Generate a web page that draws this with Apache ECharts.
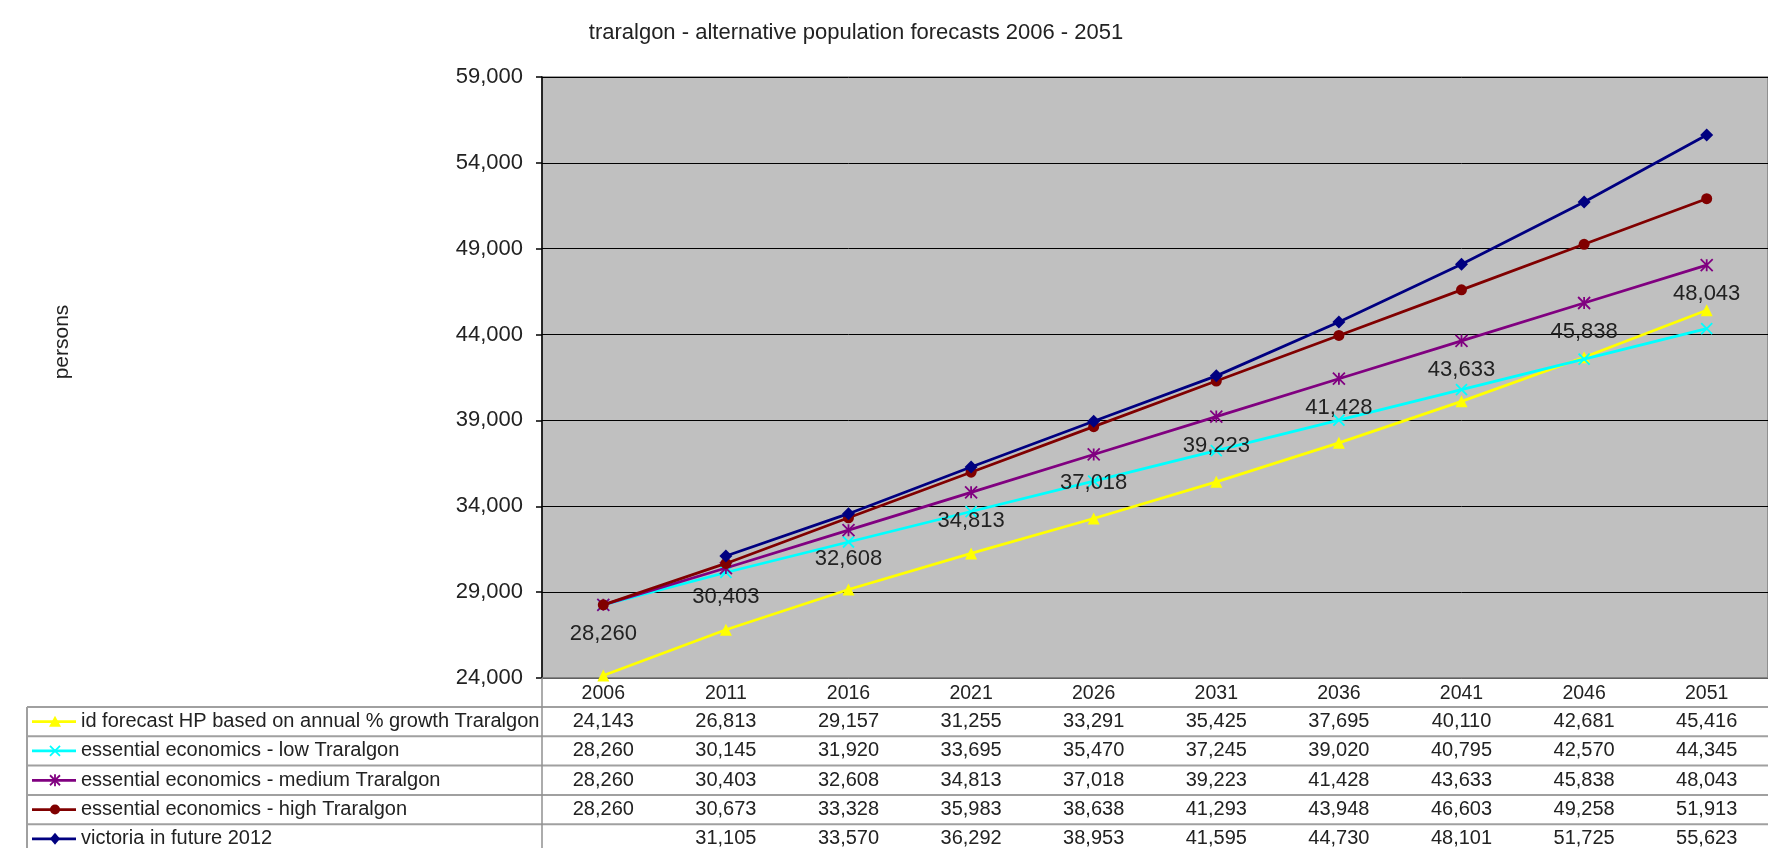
<!DOCTYPE html>
<html>
<head>
<meta charset="utf-8">
<style>
  html, body { margin: 0; padding: 0; background: #ffffff; }
  #chart { width: 1768px; height: 848px; }
</style>
<script src="https://cdn.jsdelivr.net/npm/echarts@6/dist/echarts.min.js"></script>
</head>
<body>
<div id="chart"></div>
<script>
// ---- data ----
const years = ['2006', '2011', '2016', '2021', '2026', '2031', '2036', '2041', '2046', '2051'];
const seriesNames = [
  'id forecast HP based on annual % growth Traralgon',
  'essential economics - low Traralgon',
  'essential economics - medium Traralgon',
  'essential economics - high Traralgon',
  'victoria in future 2012'
];
const idForecast = [24143, 26813, 29157, 31255, 33291, 35425, 37695, 40110, 42681, 45416];
const eeLow      = [28260, 30145, 31920, 33695, 35470, 37245, 39020, 40795, 42570, 44345];
const eeMedium   = [28260, 30403, 32608, 34813, 37018, 39223, 41428, 43633, 45838, 48043];
const eeHigh     = [28260, 30673, 33328, 35983, 38638, 41293, 43948, 46603, 49258, 51913];
const vif2012    = [null, 31105, 33570, 36292, 38953, 41595, 44730, 48101, 51725, 55623];
const yMin = 24000, yMax = 59000, yStep = 5000;
const titleText = 'traralgon - alternative population forecasts 2006 - 2051';
const yName = 'persons';

// ---- styling ----
const FONT = '"Liberation Sans", Arial, sans-serif';
const colors = ['#FFFF00', '#00FFFF', '#800080', '#800000', '#000080'];
const symbols = [
  'triangle',
  'path://M0,0L10,10M10,0L0,10',
  'path://M0,0L10,10M10,0L0,10M5,0L5,10',
  'circle',
  'diamond'
];
const symbolSizes = [12, 11, 12, 11, 13];
const allData = [idForecast, eeLow, eeMedium, eeHigh, vif2012];
const fmt = v => (v == null ? '' : Number(v).toLocaleString('en-US'));

const chart = echarts.init(document.getElementById('chart'), null, { renderer: 'canvas' });

const GRID = { left: 542, top: 77, width: 1250, height: 601 };

const series = allData.map((d, i) => ({
  name: seriesNames[i],
  type: 'line',
  data: d,
  symbol: symbols[i],
  symbolSize: symbolSizes[i],
  showAllSymbol: true,
  connectNulls: false,
  lineStyle: { color: colors[i], width: 2.75 },
  itemStyle: {
    color: colors[i],
    borderColor: colors[i],
    borderWidth: (i === 1 || i === 2) ? 1.8 : 0
  },
  label: i === 2 ? {
    show: true,
    position: 'bottom',
    distance: 11,
    fontFamily: FONT,
    fontSize: 22,
    color: '#222',
    formatter: p => fmt(p.value)
  } : { show: false },
  emphasis: { disabled: true },
  animation: false,
  z: 2 + i
}));

chart.setOption({
  animation: false,
  backgroundColor: '#ffffff',
  textStyle: { fontFamily: FONT },
  title: {
    text: titleText,
    left: 851,
    top: 17,
    textAlign: 'center',
    textStyle: { fontFamily: FONT, fontSize: 22, fontWeight: 'normal', color: '#222' }
  },
  grid: {
    left: GRID.left, top: GRID.top, width: GRID.width, height: GRID.height,
    show: true, backgroundColor: '#C0C0C0', borderColor: '#808080', borderWidth: 1.5,
    containLabel: false
  },
  xAxis: {
    type: 'category',
    data: years,
    boundaryGap: true,
    axisLine: { show: true, lineStyle: { color: '#808080', width: 1.5 } },
    axisTick: { show: false },
    axisLabel: { margin: 6, fontFamily: FONT, fontSize: 19.5, color: '#222' },
    splitLine: { show: false }
  },
  yAxis: {
    type: 'value',
    min: yMin, max: yMax, interval: yStep,
    axisLine: { show: true, lineStyle: { color: '#000', width: 1.5 } },
    axisTick: { show: true, length: 6, inside: false, lineStyle: { color: '#000', width: 1.5 } },
    axisLabel: { margin: 19, fontFamily: FONT, fontSize: 22, color: '#222', formatter: v => fmt(v) },
    splitLine: { show: true, lineStyle: { color: '#000', width: 1 } }
  },
  series: series
});

// ---- data table built from the arrays ----
const tableLeft = 27, tableRight = 1768, labelColRight = GRID.left;
const tableTop = 707, rowH = 29.3;
const lineColor = '#a0a0a0';
const g = [];

// y-axis name
g.push({
  type: 'text', x: 62, y: 342, rotation: Math.PI / 2,
  style: { text: yName, fontFamily: FONT, fontSize: 21, fill: '#222', align: 'center', verticalAlign: 'middle' },
  z: 10
});

// horizontal row borders
for (let r = 0; r <= allData.length; r++) {
  const y = tableTop + r * rowH;
  g.push({ type: 'line', shape: { x1: tableLeft, y1: y, x2: tableRight, y2: y },
    style: { stroke: lineColor, lineWidth: 2 }, z: 10 });
}
// vertical borders
g.push({ type: 'line', shape: { x1: tableLeft, y1: tableTop, x2: tableLeft, y2: 848 },
  style: { stroke: lineColor, lineWidth: 2 }, z: 10 });
g.push({ type: 'line', shape: { x1: labelColRight, y1: GRID.top + GRID.height, x2: labelColRight, y2: 848 },
  style: { stroke: '#909090', lineWidth: 1.5 }, z: 10 });

function seg(x1, y1, x2, y2, c) {
  return { type: 'line', shape: { x1, y1, x2, y2 }, style: { stroke: c, lineWidth: 1.8 }, z: 12 };
}

function legendMarker(i, cx, cy) {
  const c = colors[i];
  if (i === 0) {
    return [{ type: 'polygon', shape: { points: [[cx, cy - 6], [cx + 6, cy + 5], [cx - 6, cy + 5]] },
      style: { fill: c }, z: 12 }];
  } else if (i === 1) {
    return [seg(cx - 5, cy - 5, cx + 5, cy + 5, c), seg(cx + 5, cy - 5, cx - 5, cy + 5, c)];
  } else if (i === 2) {
    return [seg(cx - 5, cy - 5, cx + 5, cy + 5, c), seg(cx + 5, cy - 5, cx - 5, cy + 5, c),
            seg(cx, cy - 6, cx, cy + 6, c)];
  } else if (i === 3) {
    return [{ type: 'circle', shape: { cx: cx, cy: cy, r: 5 }, style: { fill: c }, z: 12 }];
  }
  return [{ type: 'polygon', shape: { points: [[cx, cy - 6], [cx + 5, cy], [cx, cy + 6], [cx - 5, cy]] },
    style: { fill: c }, z: 12 }];
}

for (let i = 0; i < allData.length; i++) {
  const cy = tableTop + rowH * i + rowH / 2;
  g.push({ type: 'line', shape: { x1: 32, y1: cy, x2: 76, y2: cy },
    style: { stroke: colors[i], lineWidth: 2.75 }, z: 11 });
  legendMarker(i, 55, cy).forEach(m => g.push(m));
  g.push({ type: 'text', x: 81, y: cy,
    style: { text: seriesNames[i], fontFamily: FONT, fontSize: 20, fill: '#222', align: 'left', verticalAlign: 'middle' },
    z: 11 });
  years.forEach((yr, j) => {
    const v = allData[i][j];
    if (v == null) return;
    const px = chart.convertToPixel({ xAxisIndex: 0 }, yr);
    g.push({ type: 'text', x: px, y: cy,
      style: { text: fmt(v), fontFamily: FONT, fontSize: 20, fill: '#222', align: 'center', verticalAlign: 'middle' },
      z: 11 });
  });
}

chart.setOption({ graphic: g });
</script>
</body>
</html>
